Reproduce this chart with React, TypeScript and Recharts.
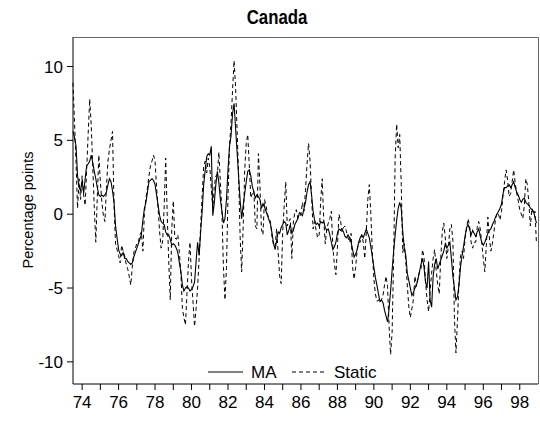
import React from 'react';
import { LineChart, Line, XAxis, YAxis } from 'recharts';

// monthly observations, first point = July 1973
const startYear = 1973.5;

const maValues = [
  5.6, 5.2, 4.6, 2.6, 1.8, 1.6, 2.3, 1.4, 2.4, 3.3, 3.4, 3.6,
  4.0, 3.5, 2.9, 2.4, 1.8, 1.3, 1.2, 1.3, 1.2, 1.3, 1.5, 2.0,
  2.4, 2.2, 1.6, 0.8, -0.8, -1.6, -2.4, -2.7, -2.8, -2.6, -3.0, -3.0,
  -3.2, -3.3, -3.4, -3.3, -2.9, -2.6, -2.3, -2.0, -1.7, -1.4, -0.4, 0.4,
  0.8, 1.5, 2.2, 2.3, 2.4, 2.3, 2.0, 1.3, 0.6, -0.1, -0.5, -0.6,
  -0.7, -1.2, -1.4, -1.4, -1.7, -2.1, -2.0, -2.1, -2.3, -2.6, -3.3, -3.9,
  -4.8, -5.2, -5.0, -4.9, -5.0, -5.2, -5.1, -4.9, -4.6, -3.2, -1.9, -2.8,
  -1.2, 0.2, 2.0, 3.0, 3.9, 4.1, 4.0, 4.6, -0.1, 0.8, 2.0, 2.9,
  2.1, 1.0, 0.2, -0.6, -0.3, 1.0, 3.0, 4.6, 5.3, 6.8, 7.5, 5.8,
  4.2, 2.5, 0.9, -0.3, 0.6, 1.4, 2.2, 2.9, 3.0, 2.6, 1.9, 1.5,
  1.1, 1.3, 1.2, 1.0, 0.4, 0.7, 0.5, 0.2, -0.1, -0.4, -0.7, -1.3,
  -2.0, -2.4, -1.8, -1.2, -1.3, -0.9, -0.7, -0.5, -0.6, -1.4, -1.1, -0.7,
  -1.3, -1.1, -0.7, -0.5, -0.3, 0.1, 0.0, -0.1, 0.4, 0.8, 1.5, 2.0,
  2.2, 1.3, 0.2, -0.4, -0.7, -0.6, -0.8, -0.5, -0.6, -0.5, -0.9, -1.1,
  -1.0, -1.4, -1.9, -2.4, -2.2, -1.9, -1.3, -1.0, -1.1, -1.0, -1.2, -1.5,
  -1.6, -1.4, -1.6, -1.9, -2.4, -2.9, -2.7, -2.4, -1.9, -1.6, -1.4, -1.6,
  -1.3, -1.0, -1.3, -1.6, -2.2, -2.9, -3.6, -4.3, -4.8, -5.4, -5.9, -5.8,
  -6.0, -6.5, -6.9, -7.3, -6.4, -5.2, -3.8, -2.5, -1.4, -0.4, 0.4, 0.8,
  0.4, -1.2, -2.3, -2.8, -4.0, -4.5, -5.0, -5.5, -5.3, -5.0, -4.8, -4.4,
  -3.9, -3.4, -3.0, -3.6, -4.6, -5.0, -3.2, -5.8, -6.3, -4.2, -3.4, -3.0,
  -3.7, -3.4, -3.1, -2.8, -2.5, -2.0, -2.3, -2.1, -1.9, -3.0, -4.2, -5.0,
  -5.8, -5.6, -4.8, -3.6, -2.8, -2.2, -1.5, -0.9, -0.7, -1.0, -1.4, -1.1,
  -1.3, -1.5, -1.2, -1.0, -1.5, -1.9, -2.1, -1.9, -1.6, -1.3, -1.1, -1.0,
  -0.7, -0.5, -0.2, 0.0, 0.2, 0.4, 0.7, 1.4, 1.8, 1.8, 1.9, 2.0,
  1.8, 2.0, 2.2, 1.8, 1.5, 1.3, 1.0, 0.8, 1.0, 1.1, 0.8, 0.7,
  0.6, 0.4, 0.3, 0.2, -0.2, -0.6,
];

const staticValues = [
  8.9, 6.2, 3.5, 0.4, 2.4, 1.0, 2.6, 1.3, 0.6, 3.0, 5.5, 7.8,
  6.0, 3.2, 0.5, -1.9, 1.2, 4.0, 2.2, 0.8, -0.1, -0.5, 1.8, 3.6,
  4.4, 5.0, 5.6, 0.6, -2.0, -2.4, -2.8, -3.3, -2.1, -2.5, -2.8, -3.4,
  -3.7, -4.2, -4.8, -3.6, -2.6, -2.3, -2.0, -1.9, -1.4, -1.2, -2.5, 0.1,
  1.1, 1.8, 2.6, 3.3, 3.6, 4.0, 3.6, 1.8, 0.4, -1.2, -2.3, -1.8,
  0.5, 3.8, 0.0, -3.2, -5.8, -1.0, 0.9, -1.6, -1.7, -1.4, -2.6, -4.0,
  -6.4, -7.0, -7.5, -5.4, -3.2, -1.9, -4.4, -6.0, -7.6, -6.4, -5.0, -3.0,
  -0.8, 1.3, 3.2, 3.6, 2.8, 3.8, 3.2, 1.8, 0.4, 1.9, 2.6, 2.7,
  4.2, 2.1, 0.2, -3.6, -5.8, -3.6, 1.2, 4.6, 6.2, 8.4, 10.4, 8.6,
  5.6, 2.6, -1.6, -3.9, -0.8, 3.0, 4.8, 5.4, 3.3, 1.1, 1.4, 1.6,
  -0.8, -1.0, 4.1, 2.0, -1.0, -1.4, 1.0, 0.6, 0.0, -0.3, -0.5, -1.6,
  -2.1, -2.2, -1.0, -2.6, -4.2, -4.7, -1.2, 0.6, 2.2, -0.8, -0.5, -0.3,
  -3.0, -0.6, 0.2, 0.3, -0.3, -0.2, 0.0, 0.8, 0.2, 1.6, 3.4, 4.8,
  3.6, 1.2, -1.0, -0.5, -1.1, -1.6, -1.4, 0.9, 2.4, -0.4, -2.0, -1.0,
  -0.6, -0.3, 0.2, -2.2, -3.4, -4.1, -2.3, 0.0, -0.4, -1.2, -0.9, -0.8,
  -1.2, -1.6, -1.9, -1.3, -3.6, -4.4, -3.6, -2.4, -1.9, -1.9, -1.4, -1.9,
  -3.0, -1.2, 1.0, 2.0, 0.0, -2.6, -4.4, -5.4, -5.9, -5.8, -6.0, -5.8,
  -5.5, -4.8, -4.2, -4.9, -7.6, -9.5, -8.0, -3.0, 3.8, 6.1, 4.5, 5.4,
  2.0, -2.6, -2.0, -3.2, -4.8, -6.3, -7.0, -6.4, -5.8, -4.2, -4.9, -4.3,
  -3.9, -3.7, -2.4, -2.9, -4.6, -5.8, -6.6, -5.2, -4.0, -3.0, -2.4, -3.8,
  -4.8, -5.4, -3.0, -1.2, -0.6, -1.6, -3.0, -2.2, -1.0, -0.7, -1.8, -7.0,
  -9.4, -7.2, -4.6, -2.8, -2.5, -3.0, -1.6, -1.0, -0.3, -0.8, -1.9, -2.3,
  -1.9, -1.9, -0.9, -0.5, -1.0, -2.0, -3.0, -3.9, -2.1, -0.2, -1.6, -2.5,
  -2.0, -1.2, -0.4, 0.1, 0.0, -0.4, 0.2, 1.3, 2.2, 3.0, 2.3, 1.2,
  1.4, 2.2, 3.0, 2.1, 1.4, 0.9, 0.3, 0.0, -0.3, 0.6, 2.4, 2.0,
  0.7, -0.8, 0.4, 0.0, 0.2, -2.0,
];

const yearTicks = [
  1974, 1975, 1976, 1977, 1978, 1979, 1980, 1981, 1982, 1983, 1984, 1985, 1986,
  1987, 1988, 1989, 1990, 1991, 1992, 1993, 1994, 1995, 1996, 1997, 1998,
];
const valueTicks = [-10, -5, 0, 5, 10];

const data = maValues.map((v, i) => ({
  t: startYear + i / 12,
  ma: v,
  stat: staticValues[i] ?? null,
}));

const font = '"Liberation Sans", Arial, Helvetica, sans-serif';
const tickStyle = { fontSize: 17, fill: '#000', fontFamily: font };

export default function App() {
  return (
    <div style={{ position: 'absolute', left: 0, top: 0, width: 540, height: 422, background: '#fff' }}>
      <div
        style={{
          position: 'absolute', left: 277, top: 5, transform: 'translateX(-50%) scaleX(0.84)',
          whiteSpace: 'nowrap', fontFamily: font,
          fontWeight: 'bold', fontSize: 20, lineHeight: '24px', color: '#000',
        }}
      >
        Canada
      </div>
      <div
        style={{
          position: 'absolute', left: 28, top: 210, transform: 'translate(-50%, -50%) rotate(-90deg)',
          whiteSpace: 'nowrap', fontFamily: font, fontSize: 14.5, color: '#000',
        }}
      >
        Percentage points
      </div>
      <LineChart width={540} height={422} data={data} margin={{ top: 37, right: 2, bottom: 8, left: 0 }}>
        <XAxis
          dataKey="t"
          type="number"
          domain={[1973.5, 1999]}
          ticks={yearTicks}
          interval={0}
          tickFormatter={(v: number) => (v % 2 === 0 ? String(v).slice(2) : '')}
          tick={tickStyle}
          tickSize={6}
          tickMargin={6}
          height={30}
          axisLine={{ stroke: '#000' }}
          tickLine={{ stroke: '#000' }}
        />
        <YAxis
          type="number"
          domain={[-11.5, 12]}
          ticks={valueTicks}
          interval={0}
          tick={tickStyle}
          tickSize={6}
          tickMargin={4}
          width={73}
          axisLine={{ stroke: '#000' }}
          tickLine={{ stroke: '#000' }}
        />
        <Line type="linear" dataKey="stat" stroke="#000" strokeWidth={1} strokeDasharray="4 3" dot={false} isAnimationActive={false} />
        <Line type="linear" dataKey="ma" stroke="#000" strokeWidth={1.1} dot={false} isAnimationActive={false} />
      </LineChart>
      <svg style={{ position: 'absolute', left: 0, top: 0, pointerEvents: 'none' }} width={540} height={422}>
        {/* plot frame: top and right edges */}
        <polyline points="73,37.5 538.5,37.5 538.5,384" fill="none" stroke="#666" strokeWidth={1} />
        <line x1={208} x2={243} y1={372} y2={372} stroke="#000" strokeWidth={1} />
        <text x={251} y={378} fontFamily={font} fontSize={17} fill="#000">MA</text>
        <line x1={292} x2={326} y1={372} y2={372} stroke="#000" strokeWidth={1} strokeDasharray="4 3" />
        <text x={334} y={378} fontFamily={font} fontSize={17} fill="#000">Static</text>
      </svg>
    </div>
  );
}
